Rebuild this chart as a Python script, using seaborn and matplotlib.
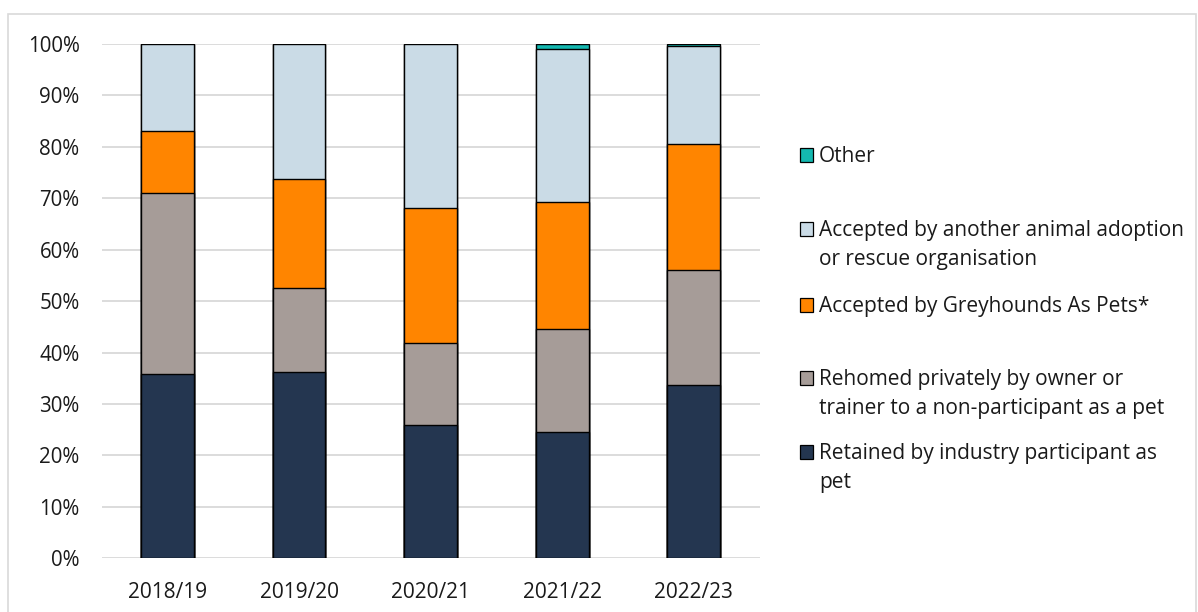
import matplotlib
matplotlib.use("Agg")
import matplotlib.pyplot as plt
import seaborn as sns
import pandas as pd
import numpy as np
from matplotlib.patches import Rectangle

years = ["2018/19", "2019/20", "2020/21", "2021/22", "2022/23"]
retained = [35.9, 36.3, 25.9, 24.6, 33.7]
rehomed = [35.1, 16.2, 16.0, 19.9, 22.3]
gap = [12.0, 21.2, 26.2, 24.8, 24.5]
adoption = [17.0, 26.3, 31.9, 29.7, 19.1]
other = [0.0, 0.0, 0.0, 1.0, 0.4]

series_names = [
    "Retained by industry participant as\npet",
    "Rehomed privately by owner or\ntrainer to a non-participant as a pet",
    "Accepted by Greyhounds As Pets*",
    "Accepted by another animal adoption\nor rescue organisation",
    "Other",
]
series_vals = [retained, rehomed, gap, adoption, other]
colors = ["#243650", "#A69C98", "#FF8500", "#CADBE6", "#14B8B0"]

sns.set_theme(style="white")
plt.rcParams["font.family"] = ["Open Sans", "DejaVu Sans"]

fig = plt.figure(figsize=(11.98, 6.12), dpi=100)
ax = fig.add_axes([0.085, 0.088, 0.549, 0.840])

cum = np.cumsum(np.array(series_vals), axis=0)
# draw from the top segment down so each lower layer overlays
for i in range(len(series_vals) - 1, -1, -1):
    df = pd.DataFrame({"year": years, "value": cum[i]})
    sns.barplot(data=df, x="year", y="value", color=colors[i], width=0.40,
                edgecolor="black", linewidth=1.0, saturation=1, ax=ax, zorder=3)

ax.set_xlim(-0.5, 4.5)
ax.set_ylim(0, 100)
ax.set_yticks(np.arange(0, 101, 10))
ax.set_yticklabels([f"{v}%" for v in range(0, 101, 10)], fontsize=14.8, color="#1a1a1a")
ax.tick_params(axis="x", labelsize=15, colors="#1a1a1a", length=0, pad=17)
ax.tick_params(axis="y", length=0, pad=16)
ax.set_xlabel("")
ax.set_ylabel("")
ax.grid(axis="y", color="#D9D9D9", linewidth=1.3, zorder=0)
ax.set_axisbelow(True)
for s in ax.spines.values():
    s.set_visible(False)

# outer chart border
fig.patches.append(Rectangle((8 / 1198, -0.01), 1188 / 1198, 1 - 14 / 612 + 0.01,
                             transform=fig.transFigure, fill=False,
                             edgecolor="#D9D9D9", linewidth=1.2))

# legend (manual, Excel style: marker aligned with first line)
leg_rows = [
    (4, 155),
    (3, 229),
    (2, 305),
    (1, 378),
    (0, 452),
]
for idx, ypx in leg_rows:
    yf = 1 - ypx / 612
    fig.patches.append(Rectangle((800 / 1198, yf - 7 / 612), 13 / 1198, 14 / 612,
                                 transform=fig.transFigure, facecolor=colors[idx],
                                 edgecolor="black", linewidth=0.9))
    fig.text(819 / 1198, yf + 9 / 612, series_names[idx], fontsize=15, color="#1a1a1a",
             va="top", ha="left", linespacing=1.5,
             transform=fig.transFigure)

fig.savefig("out.png", dpi=100)
